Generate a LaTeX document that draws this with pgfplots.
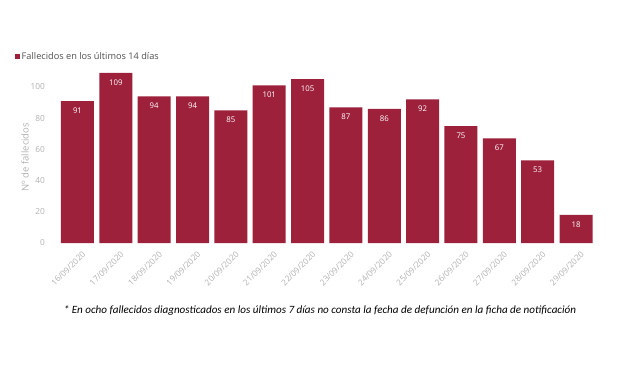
\documentclass[border=0pt]{standalone}
\usepackage{pgfplots}
\pgfplotsset{compat=1.18}
\usepackage{fontspec}
\setmainfont{Open Sans}
\newfontfamily\footfont{Carlito}
\definecolor{barred}{RGB}{158,33,60}
\definecolor{axgray}{RGB}{178,178,178}
\definecolor{legtext}{RGB}{80,80,80}
\begin{document}
\begin{tikzpicture}[x=1pt,y=1pt]
\useasboundingbox (0,0) rectangle (620,368);
\fill[white] (0,0) rectangle (620,368);
\begin{axis}[
  at={(58.3pt,125pt)}, anchor=south west,
  scale only axis, width=536.9pt, height=171.6pt,
  xmin=-0.5, xmax=13.5, ymin=0, ymax=110,
  axis line style={draw=none},
  ybar, bar width=33pt,
  xtick={0,...,13},
  xticklabels={16/09/2020,17/09/2020,18/09/2020,19/09/2020,20/09/2020,21/09/2020,22/09/2020,23/09/2020,24/09/2020,25/09/2020,26/09/2020,27/09/2020,28/09/2020,29/09/2020},
  xticklabel style={rotate=45, anchor=north east, font=\fontsize{8.3}{9}\selectfont, text=axgray, xshift=1pt, yshift=-5pt},
  ytick={0,20,...,100},
  yticklabel style={font=\fontsize{8.3}{10}\selectfont, text=axgray, xshift=-10pt},
  /pgf/number format/assume math mode=true,
  major tick length=0pt,
  ylabel={Nº de fallecidos},
  every axis y label/.style={at={(axis description cs:-0.062,0.5)}, rotate=90, anchor=center, font=\fontsize{9.5}{11}\selectfont, text=axgray},
  nodes near coords,
  nodes near coords style={font=\fontsize{7.8}{8}\selectfont, text=white, anchor=north, yshift=-3pt},
  legend style={at={(axis description cs:-0.0815,1.085)}, anchor=west, draw=none, fill=none, font=\fontsize{9.2}{10}\selectfont, text=legtext, inner sep=0pt},
  legend image code/.code={\fill[barred] (0pt,-2.5pt) rectangle (5pt,2.5pt);},
]
\addplot[fill=barred, draw=none] coordinates {
(0,91) (1,109) (2,94) (3,94) (4,85) (5,101) (6,105) (7,87) (8,86) (9,92) (10,75) (11,67) (12,53) (13,18)};
\addlegendentry{Fallecidos en los últimos 14 días}
\end{axis}
\node[font=\footfont\itshape\fontsize{11.1}{13}\selectfont, text=black] at (320,57) {* En ocho fallecidos diagnosticados en los últimos 7 días no consta la fecha de defunción en la ficha de notificación};
\end{tikzpicture}
\end{document}
